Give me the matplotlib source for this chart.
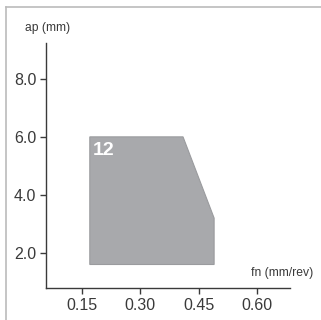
import matplotlib
matplotlib.use("Agg")
import matplotlib.pyplot as plt
from matplotlib.lines import Line2D
from matplotlib.patches import Polygon

fn = [0.17, 0.41, 0.49, 0.49, 0.17]
ap = [6.0, 6.0, 3.2, 1.6, 1.6]
region_label = "12"
xticks = [0.15, 0.30, 0.45, 0.60]
yticks = [2.0, 4.0, 6.0, 8.0]

plt.rcParams['font.family'] = ['Liberation Sans', 'DejaVu Sans']
txt = '#3a3a3a'

fig = plt.figure(figsize=(3.21, 3.20), dpi=100)
ax = fig.add_axes([0.143, 0.10, 0.76, 0.766])

poly = Polygon(list(zip(fn, ap)), closed=True, facecolor='#a8a9ac', edgecolor='#9a9b9e', linewidth=0.8)
ax.add_patch(poly)
ax.text(0.177, 5.53, region_label, color='white', fontsize=14, fontweight='bold',
        family=['Liberation Sans Narrow', 'Liberation Sans', 'DejaVu Sans'], va='center', ha='left')

ax.set_xlim(0.057, 0.685)
ax.set_ylim(0.79, 9.24)
ax.set_xticks(xticks)
ax.set_xticklabels([f"{v:.2f}" for v in xticks])
ax.set_yticks(yticks)
ax.set_yticklabels([f"{v:.1f}" for v in yticks])
for s in ['top', 'right']:
    ax.spines[s].set_visible(False)
for s in ['left', 'bottom']:
    ax.spines[s].set_color(txt)
    ax.spines[s].set_linewidth(1.0)
ax.tick_params(direction='out', length=4, width=1, color=txt, labelcolor=txt, labelsize=11.5, pad=3)

fig.text(0.147, 0.912, "ap (mm)", color=txt, fontsize=8.7, ha='center', va='center')
fig.text(0.975, 0.147, "fn (mm/rev)", color=txt, fontsize=8.7, ha='right', va='center')

fig.add_artist(Line2D([0.019, 0.019], [0, 0.978], transform=fig.transFigure, color='#bbbbbb', linewidth=1.2))
fig.add_artist(Line2D([0.019, 1.0], [0.978, 0.978], transform=fig.transFigure, color='#bbbbbb', linewidth=1.2))

fig.savefig("out.png", dpi=100)
